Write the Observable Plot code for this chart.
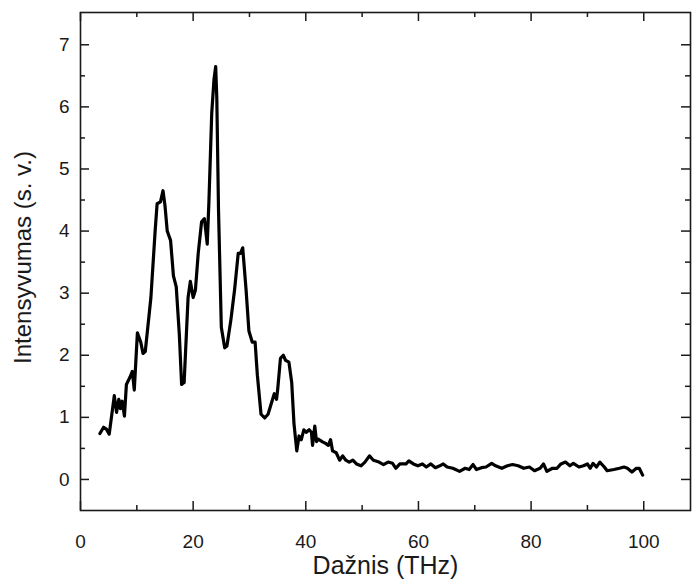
<!DOCTYPE html>
<html>
<head>
<meta charset="utf-8">
<script src="https://cdn.jsdelivr.net/npm/d3@7"></script>
<script src="https://cdn.jsdelivr.net/npm/@observablehq/plot@0.6"></script>
<style>
  html, body { margin: 0; padding: 0; background: #fff; }
  #chart svg { display: block; }
</style>
</head>
<body>
<div id="chart"></div>
<script>
const freq = [3.45,4.1,4.6,5.1,6.0,6.4,6.8,7.1,7.4,7.8,8.15,8.8,9.2,9.55,10.1,10.7,11.1,11.5,12.5,13.25,13.6,14.2,14.65,15.0,15.4,15.99,16.5,17.0,17.55,17.95,18.4,19.1,19.5,20.0,20.4,20.9,21.5,22.0,22.5,22.8,23.3,23.7,24.0,24.2,24.5,25.0,25.6,26.0,26.7,27.35,28.0,28.4,28.8,29.4,29.9,30.5,31.0,31.4,32.05,32.7,33.3,33.9,34.4,34.8,35.0,35.5,36.0,36.4,37.0,37.5,37.9,38.4,38.8,39.2,39.65,40.1,40.6,41.0,41.2,41.6,41.9,42.2,42.9,43.5,44.0,44.4,44.75,45.4,46.0,46.55,47.1,47.7,48.35,49.0,49.8,50.5,51.3,52.0,53.0,53.8,54.6,55.4,56.0,56.7,57.8,58.3,59.1,59.9,60.7,61.4,62.2,63.0,63.8,64.4,65.1,66.1,67.3,68.3,69.0,69.7,70.3,71.2,72.0,73.0,73.7,74.8,75.8,76.7,77.7,78.7,79.7,80.6,81.6,82.2,82.8,83.8,84.6,85.3,86.1,86.9,87.5,88.5,89.3,90.0,90.5,91.0,91.6,92.2,93.0,93.5,94.7,95.7,96.5,97.1,97.9,98.7,99.2,99.8];
const intensity = [0.74,0.84,0.81,0.73,1.35,1.08,1.29,1.14,1.26,1.02,1.53,1.65,1.74,1.44,2.36,2.21,2.03,2.06,2.93,4.0,4.44,4.47,4.65,4.41,4.0,3.85,3.28,3.1,2.33,1.53,1.56,2.93,3.19,2.93,3.05,3.64,4.15,4.2,3.79,4.47,5.9,6.44,6.65,6.14,4.35,2.45,2.12,2.15,2.57,3.05,3.64,3.64,3.73,3.05,2.39,2.21,2.21,1.68,1.05,0.99,1.05,1.23,1.38,1.29,1.44,1.95,2.0,1.92,1.89,1.56,0.90,0.46,0.70,0.64,0.80,0.76,0.80,0.76,0.55,0.86,0.61,0.65,0.61,0.58,0.55,0.64,0.46,0.43,0.31,0.38,0.31,0.28,0.31,0.25,0.22,0.28,0.38,0.31,0.28,0.24,0.28,0.26,0.18,0.25,0.25,0.30,0.25,0.22,0.25,0.20,0.25,0.19,0.22,0.25,0.20,0.18,0.13,0.18,0.16,0.24,0.16,0.19,0.20,0.26,0.22,0.18,0.22,0.24,0.22,0.18,0.20,0.14,0.18,0.25,0.13,0.18,0.18,0.25,0.28,0.22,0.26,0.20,0.22,0.25,0.18,0.26,0.20,0.28,0.20,0.14,0.16,0.18,0.20,0.18,0.12,0.18,0.18,0.07];

const xMajor = [0, 20, 40, 60, 80, 100];
const xMinor = [10, 30, 50, 70, 90];
const yMajor = [0, 1, 2, 3, 4, 5, 6, 7];
const yMinor = [0.5, 1.5, 2.5, 3.5, 4.5, 5.5, 6.5];
const xLabel = "Dažnis (THz)";
const yLabel = "Intensyvumas (s. v.)";

const data = freq.map((f, i) => ({f, v: intensity[i]}));
const X0 = 0, X1 = 108.3, Y0 = -0.5, Y1 = 7.52;
const ink = "#1a1a1a";

const chart = Plot.plot({
  width: 692,
  height: 581,
  marginLeft: 80,
  marginRight: 2,
  marginTop: 12,
  marginBottom: 71,
  style: {fontFamily: "'Liberation Sans', Arial, sans-serif", color: ink, background: "#fff"},
  x: {domain: [X0, X1]},
  y: {domain: [Y0, Y1]},
  marks: [
    Plot.axisX(xMajor, {tickSize: 0, tickPadding: 24, fontSize: 19, label: null, tickFormat: d => String(d)}),
    Plot.axisY(yMajor, {tickSize: 0, tickPadding: 11, fontSize: 19, label: null, tickFormat: d => String(d)}),
    Plot.ruleX(xMajor, {x: d => d, y1: Y0, y2: Y0, insetBottom: 9, stroke: ink, strokeWidth: 1.5}),
    Plot.ruleX(xMinor, {x: d => d, y1: Y0, y2: Y0, insetBottom: 5, stroke: ink, strokeWidth: 1.5}),
    Plot.ruleX(xMajor, {x: d => d, y1: Y1, y2: Y1, insetTop: 9, stroke: ink, strokeWidth: 1.5}),
    Plot.ruleX(xMinor, {x: d => d, y1: Y1, y2: Y1, insetTop: 5, stroke: ink, strokeWidth: 1.5}),
    Plot.ruleY(yMajor, {y: d => d, x1: X0, x2: X0, insetRight: -9, stroke: ink, strokeWidth: 1.5}),
    Plot.ruleY(yMinor, {y: d => d, x1: X0, x2: X0, insetRight: -5, stroke: ink, strokeWidth: 1.5}),
    Plot.ruleY(yMajor, {y: d => d, x1: X1, x2: X1, insetLeft: -9, stroke: ink, strokeWidth: 1.5}),
    Plot.ruleY(yMinor, {y: d => d, x1: X1, x2: X1, insetLeft: -5, stroke: ink, strokeWidth: 1.5}),
    Plot.lineY(data, {x: "f", y: "v", stroke: "#000", strokeWidth: 3.2, strokeLinejoin: "round"}),
    Plot.frame({stroke: ink, strokeWidth: 1.6}),
    Plot.text([xLabel], {frameAnchor: "bottom", dy: 55, fontSize: 25, fill: ink, lineAnchor: "middle", textAnchor: "middle"}),
    Plot.text([yLabel], {frameAnchor: "left", dx: -57, dy: -4, rotate: -90, fontSize: 24, fill: ink, lineAnchor: "middle", textAnchor: "middle"})
  ]
});
document.getElementById("chart").appendChild(chart);
</script>
</body>
</html>
